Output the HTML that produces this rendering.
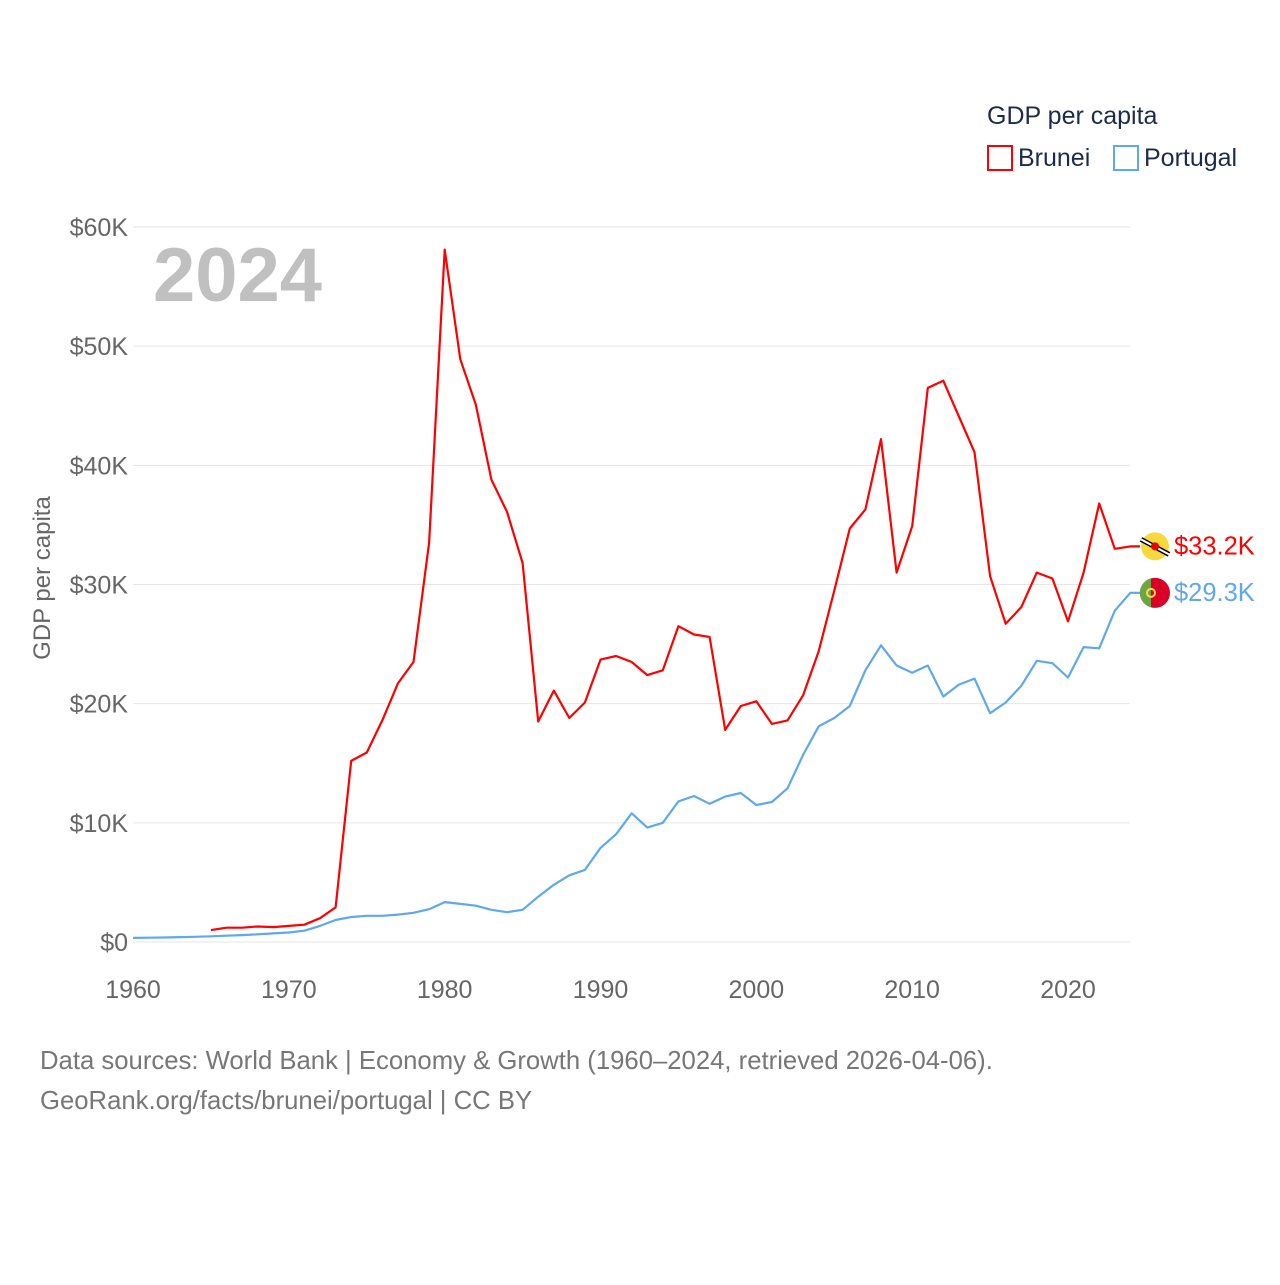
<!DOCTYPE html>
<html><head><meta charset="utf-8"><style>
body{margin:0;background:#fff;font-family:"Liberation Sans",sans-serif}
svg text{font-family:"Liberation Sans",sans-serif}
</style></head><body>
<svg id="chart" width="1280" height="1280">
<text x="987" y="124" font-size="25" fill="#1c2b4a">GDP per capita</text>
<g><rect x="988" y="146" width="24" height="24" fill="none" stroke="#f00" stroke-width="2"/><text x="1018" y="166" font-size="25" fill="#1c2b4a">Brunei</text></g>
<g><rect x="1114" y="146" width="24" height="24" fill="none" stroke="#5fa8ec" stroke-width="2"/><text x="1144" y="166" font-size="25" fill="#1c2b4a">Portugal</text></g>
<g id="grid"></g>
<text x="153" y="301" font-size="76" font-weight="bold" fill="#c0c0c0">2024</text>
<text transform="translate(50,578) rotate(-90)" text-anchor="middle" font-size="24" fill="#666">GDP per capita</text>
<g id="series"></g>
<text x="40" y="1069" font-size="25.7" fill="#777">Data sources: World Bank | Economy &amp; Growth (1960–2024, retrieved 2026-04-06).</text>
<text x="40" y="1109" font-size="25.7" fill="#777">GeoRank.org/facts/brunei/portugal | CC BY</text>
</svg>
<script>
const yTicks=[0,10,20,30,40,50,60];
const xTicks=[1960,1970,1980,1990,2000,2010,2020];
const bruneiStart=1965;
const bruneiValues=[1.0,1.2,1.2,1.3,1.25,1.35,1.45,2.0,2.9,15.2,15.9,18.6,21.7,23.5,33.5,58.1,48.9,45.1,38.8,36.1,31.8,18.5,21.1,18.8,20.1,23.7,24.0,23.5,22.4,22.8,26.5,25.8,25.6,17.8,19.8,20.2,18.3,18.6,20.7,24.4,29.5,34.7,36.3,42.2,31.0,34.9,46.5,47.1,44.1,41.1,30.7,26.7,28.1,31.0,30.5,26.9,31.0,36.8,33.0,33.2];
const portugalStart=1960;
const portugalValues=[0.34,0.36,0.38,0.41,0.44,0.48,0.53,0.58,0.65,0.72,0.8,0.95,1.35,1.85,2.1,2.2,2.2,2.3,2.45,2.75,3.35,3.2,3.05,2.7,2.5,2.7,3.8,4.8,5.6,6.05,7.9,9.05,10.8,9.6,10.0,11.8,12.25,11.6,12.2,12.5,11.5,11.75,12.9,15.7,18.1,18.8,19.8,22.8,24.9,23.2,22.6,23.2,20.6,21.6,22.1,19.2,20.1,21.5,23.6,23.4,22.2,24.75,24.65,27.8,29.3];
const NS='http://www.w3.org/2000/svg';
const xs=yr=>133+(yr-1960)*(935/60);
const ys=v=>942-v*(715/60);
function mk(tag,attrs,parent){const e=document.createElementNS(NS,tag);for(const k in attrs)e.setAttribute(k,attrs[k]);parent.appendChild(e);return e;}
const grid=document.getElementById('grid');
yTicks.forEach(t=>{
  const l=mk('line',{x1:133,x2:1130,y1:ys(t),y2:ys(t),stroke:'#e6e6e6','stroke-width':1},grid);
  
  
  const tx=mk('text',{x:128,y:ys(t)+9,'text-anchor':'end','font-size':25,fill:'#666'},grid);
  tx.textContent=t===0?'$0':'$'+t+'K';
  
  
});
xTicks.forEach(t=>{
  const tx=mk('text',{x:xs(t),y:998,'text-anchor':'middle','font-size':25,fill:'#666'},grid);
  tx.textContent=t;
  
  
});
const s=document.getElementById('series');
function line(vals,start,color,name){
  const pts=vals.map((v,i)=>xs(start+i).toFixed(1)+','+ys(v).toFixed(1));
  const last=ys(vals[vals.length-1]);
  pts.push('1140,'+last.toFixed(1));
  const p=mk('polyline',{points:pts.join(' '),fill:'none',stroke:color,'stroke-width':2.2,'stroke-linejoin':'round'},s);
  
  
  return last;
}
const lb=line(bruneiValues,bruneiStart,'#ff0000','brunei');
const lp=line(portugalValues,portugalStart,'#5fa8ec','portugal');
const fb=mk('g',{},s);


mk('circle',{cx:1155,cy:lb,r:14,fill:'#f7d93e'},fb);
mk('line',{x1:1141,y1:lb-7,x2:1169,y2:lb+8,stroke:'#000','stroke-width':5},fb);
mk('line',{x1:1141,y1:lb-7,x2:1169,y2:lb+8,stroke:'#fff','stroke-width':2},fb);
mk('circle',{cx:1155,cy:lb,r:4,fill:'#e00'},fb);
const fp=mk('g',{},s);


mk('circle',{cx:1155,cy:lp,r:15,fill:'#d80027'},fp);
mk('path',{d:`M1151,${lp-14.5} A15,15 0 0 0 1151,${lp+14.5} Z`,fill:'#6da544'},fp);
mk('circle',{cx:1151,cy:lp,r:4,fill:'none',stroke:'#ffda44','stroke-width':2},fp);
const tb=mk('text',{x:1174,y:lb+8,'font-size':25.5,fill:'#ff0000'},s);
tb.textContent='$'+bruneiValues[bruneiValues.length-1].toFixed(1)+'K';


const tp=mk('text',{x:1174,y:lp+8,'font-size':25.5,fill:'#5fa8ec'},s);
tp.textContent='$'+portugalValues[portugalValues.length-1].toFixed(1)+'K';


</script>
</body></html>
